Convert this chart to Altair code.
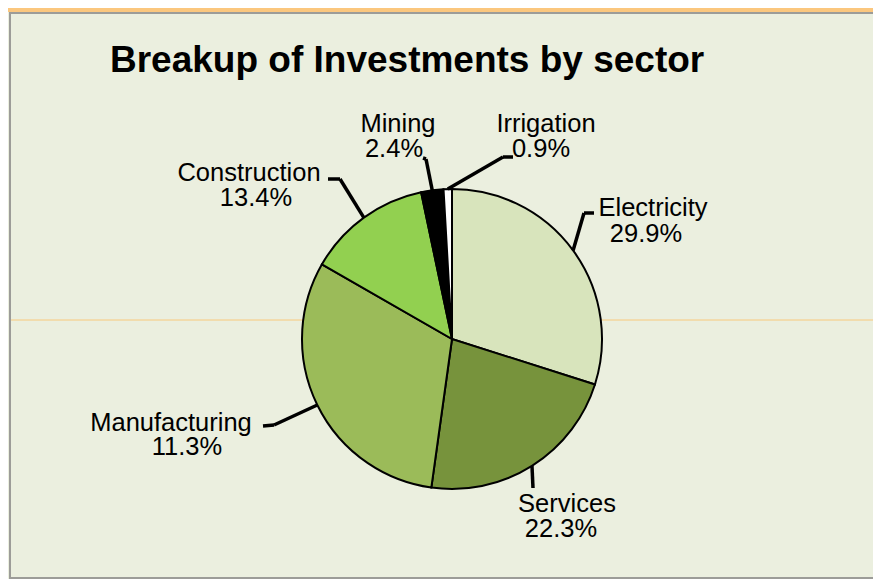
import altair as alt
import pandas as pd

# ---- data ----
sectors = ["Electricity", "Services", "Manufacturing", "Construction", "Mining", "Irrigation"]
shares = [29.9, 22.3, 31.1, 13.4, 2.4, 0.9]          # slice sizes as drawn
pct_labels = ["29.9%", "22.3%", "11.3%", "13.4%", "2.4%", "0.9%"]  # label text as printed
colors = ["#d8e4bc", "#77933c", "#9bbb59", "#92d050", "#000000", "#ffffff"]
title = "Breakup of Investments by sector"

# ---- layout (pixels, chart coordinates) ----
W, H = 865, 571
CX, CY, R = 444, 331, 150
label_layout = {
    #               name_x, pct_x, name_y, pct_y, elbow_x, elbow_y, end_x, end_y
    "Electricity":  (645, 638, 208, 234, 576, 205, 586, 205),
    "Services":     (559, 553, 504, 529, 525, 480, 525, 480),
    "Manufacturing":(163, 179, 423, 447, 266, 417, 255, 418),
    "Construction": (241, 248, 173, 198, 332, 171, 320, 171),
    "Mining":       (390, 386, 124, 149, 418, 151, 415, 150),
    "Irrigation":   (538, 533, 124, 149, 495, 149, 505, 149),
}

df = pd.DataFrame({"sector": sectors, "share": shares, "pct": pct_labels,
                   "idx": list(range(len(sectors)))})
lay = pd.DataFrame(
    [(k,) + v for k, v in label_layout.items()],
    columns=["sector", "nx", "px", "ny", "py", "bx", "by", "ex", "ey"],
)
df = df.merge(lay, on="sector")

base = alt.Chart(df)

color = alt.Color("sector:N", scale=alt.Scale(domain=sectors, range=colors), legend=None)

frame_top = alt.Chart(pd.DataFrame({"a": [0]})).mark_rect(color="#fbc77e").encode(
    x=alt.value(0), x2=alt.value(W), y=alt.value(0), y2=alt.value(4))
border = alt.Chart(pd.DataFrame({"a": [0]})).mark_rect(
    fill="#ebefdf", stroke="#9c9c98", strokeWidth=2).encode(
    x=alt.value(2), x2=alt.value(W + 4), y=alt.value(5), y2=alt.value(H - 1))
hline = alt.Chart(pd.DataFrame({"a": [0]})).mark_rule(color="#f8c97d", strokeWidth=1).encode(
    x=alt.value(3), x2=alt.value(W), y=alt.value(312))

pie = base.mark_arc(radius=R, stroke="#000000", strokeWidth=2).encode(
    theta=alt.Theta("share:Q", stack=True),
    order=alt.Order("idx:Q"),
    color=color,
    x=alt.value(CX), y=alt.value(CY),
)

geo = base.transform_window(
    cum="sum(share)", sort=[alt.SortField("idx")], frame=[None, 0]
).transform_joinaggregate(total="sum(share)").transform_calculate(
    mid=f"2*PI*(datum.cum - datum.share/2)/datum.total"
).transform_calculate(
    sx=f"{CX} + {R}*sin(datum.mid)", sy=f"{CY} - {R}*cos(datum.mid)"
)

lead1 = geo.mark_rule(color="black", strokeWidth=3.5).encode(
    x=alt.X("sx:Q", scale=None), y=alt.Y("sy:Q", scale=None),
    x2="bx:Q", y2="by:Q")
lead2 = geo.mark_rule(color="black", strokeWidth=3.5).encode(
    x=alt.X("bx:Q", scale=None), y=alt.Y("by:Q", scale=None),
    x2="ex:Q", y2="ey:Q")

font = "Liberation Sans"
names = base.mark_text(font=font, fontSize=25.5, align="center", baseline="alphabetic",
                       color="black").encode(
    x=alt.X("nx:Q", scale=None), y=alt.Y("ny:Q", scale=None), text="sector:N")
pcts = base.mark_text(font=font, fontSize=25.5, align="center", baseline="alphabetic",
                      color="black").encode(
    x=alt.X("px:Q", scale=None), y=alt.Y("py:Q", scale=None), text="pct:N")

title_mark = alt.Chart(pd.DataFrame({"t": [title]})).mark_text(
    font=font, fontSize=37, fontWeight="bold", align="left", baseline="alphabetic",
    color="black").encode(x=alt.value(102), y=alt.value(64), text="t:N")

chart = alt.layer(frame_top, border, hline, pie, lead1, lead2, names, pcts, title_mark).properties(
    width=W, height=H,
    autosize=alt.AutoSizeParams(type="none"),
    padding=0,
    background="#ebefdf",
).configure_view(stroke=None)

chart.save("out.html", embed_options={"renderer": "svg", "actions": False})
